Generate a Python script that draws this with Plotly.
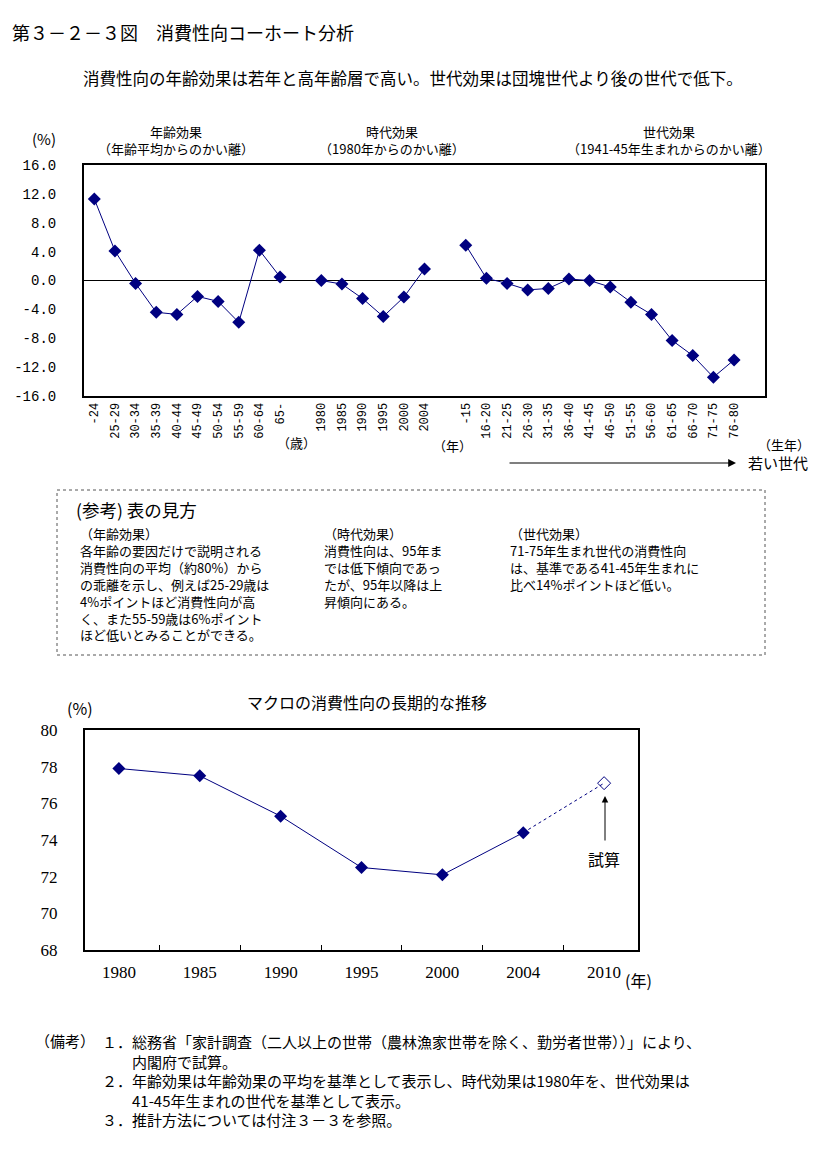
import plotly.graph_objects as go

W, H = 826, 1164
JP = "Noto Sans CJK JP"
MONO = "Liberation Mono"
SERIF = "Liberation Serif"

# ---------------- data ----------------
age_labels = ["-24", "25-29", "30-34", "35-39", "40-44", "45-49", "50-54", "55-59", "60-64", "65-"]
age_vals = [11.3, 4.1, -0.4, -4.4, -4.7, -2.2, -2.9, -5.8, 4.2, 0.5]

period_labels = ["1980", "1985", "1990", "1995", "2000", "2004"]
period_vals = [0.0, -0.5, -2.5, -5.0, -2.3, 1.6]

cohort_labels = ["-15", "16-20", "21-25", "26-30", "31-35", "36-40", "41-45", "46-50",
                 "51-55", "56-60", "61-65", "66-70", "71-75", "76-80"]
cohort_vals = [4.9, 0.3, -0.4, -1.3, -1.1, 0.2, 0.0, -0.9, -3.0, -4.7, -8.3, -10.4, -13.4, -11.0]

macro_years = ["1980", "1985", "1990", "1995", "2000", "2004", "2010"]
macro_vals = [77.9, 77.5, 75.3, 72.5, 72.1, 74.4, 77.1]

y1_ticks = [16, 12, 8, 4, 0, -4, -8, -12, -16]
y2_ticks = [80, 78, 76, 74, 72, 70, 68]


def px(x):
    return x / W


def py(y):
    return 1 - y / H


fig = go.Figure()
NAVY = "#000080"

# top chart: groups separated by one empty slot
groups = [(age_labels, age_vals), (period_labels, period_vals), (cohort_labels, cohort_vals)]
tickvals, ticktext = [], []
pos = 0
for labels, vals in groups:
    xs = list(range(pos, pos + len(labels)))
    tickvals += xs
    ticktext += labels
    fig.add_trace(go.Scatter(
        x=xs, y=vals, mode="lines+markers", xaxis="x", yaxis="y",
        line=dict(color=NAVY, width=1),
        marker=dict(symbol="diamond", size=10, color=NAVY),
        showlegend=False, hoverinfo="skip"))
    pos += len(labels) + 1
n_slots = pos - 1

# bottom chart
fig.add_trace(go.Scatter(
    x=macro_years[:-1], y=macro_vals[:-1], mode="lines+markers", xaxis="x2", yaxis="y2",
    line=dict(color=NAVY, width=1),
    marker=dict(symbol="diamond", size=10, color=NAVY),
    showlegend=False, hoverinfo="skip"))
fig.add_trace(go.Scatter(
    x=macro_years[-2:], y=macro_vals[-2:], mode="lines", xaxis="x2", yaxis="y2",
    line=dict(color=NAVY, width=1, dash="dot"),
    showlegend=False, hoverinfo="skip"))
fig.add_trace(go.Scatter(
    x=macro_years[-1:], y=macro_vals[-1:], mode="markers", xaxis="x2", yaxis="y2",
    marker=dict(symbol="diamond-open", size=10, color=NAVY, line=dict(width=1)),
    showlegend=False, hoverinfo="skip"))

fig.update_layout(
    width=W, height=H, autosize=False,
    margin=dict(l=0, r=0, t=0, b=0, pad=0, autoexpand=False),
    paper_bgcolor="white", plot_bgcolor="white",
    font=dict(family=JP, size=13, color="black"),
    xaxis=dict(domain=[px(84), px(765)], range=[-0.5, n_slots + 0.5],
               tickmode="array", tickvals=tickvals, ticktext=ticktext, tickangle=-90,
               tickfont=dict(family=MONO, size=12), showgrid=False, zeroline=False,
               showline=True, mirror=True, linecolor="black", linewidth=2, ticks=""),
    yaxis=dict(domain=[py(396), py(165)], range=[-16, 16], tickmode="array",
               tickvals=y1_ticks, ticktext=[f"{v:.1f}" for v in y1_ticks],
               tickfont=dict(family=MONO, size=14), ticklabelstandoff=23,
               showgrid=False, zeroline=True, zerolinecolor="black", zerolinewidth=1,
               showline=True, mirror=True, linecolor="black", linewidth=2, ticks=""),
    xaxis2=dict(domain=[px(85), px(638)], anchor="y2", type="category",
                categoryorder="array", categoryarray=macro_years,
                tickfont=dict(family=SERIF, size=17),
                ticks="inside", ticklen=5, tickson="boundaries", tickcolor="black",
                ticklabelstandoff=6,
                showgrid=False, showline=True, mirror=True, linecolor="black", linewidth=2),
    yaxis2=dict(domain=[py(950), py(730)], anchor="x2", range=[68, 80],
                tickmode="array", tickvals=y2_ticks,
                tickfont=dict(family=SERIF, size=17),
                ticklabelstandoff=22,
                showgrid=False, zeroline=False, showline=True, mirror=True,
                linecolor="black", linewidth=2, ticks=""),
)

ann = []


def T(x, y, text, size=13, xanchor="left", yanchor="middle", family=JP, align="left"):
    ann.append(dict(x=px(x), y=py(y), xref="paper", yref="paper", text=text,
                    showarrow=False, xanchor=xanchor, yanchor=yanchor, align=align,
                    font=dict(family=family, size=size, color="black")))


# titles
T(10, 32, "第３－２－３図　消費性向コーホート分析", size=18)
T(413, 78, "消費性向の年齢効果は若年と高年齢層で高い。世代効果は団塊世代より後の世代で低下。",
  size=16.5, xanchor="center")

# top chart headers
T(44, 138, "(%)", size=15, xanchor="center")
T(176, 140, "年齢効果<br>（年齢平均からのかい離）", size=13, xanchor="center", align="center")
T(392, 140, "時代効果<br>（1980年からのかい離）", size=13, xanchor="center", align="center")
T(669, 140, "世代効果<br>（1941-45年生まれからのかい離）", size=13, xanchor="center", align="center")

T(296, 442, "（歳）", size=13, xanchor="center")
T(452, 446, "（年）", size=13, xanchor="center")
T(784, 444, "（生年）", size=13, xanchor="center")
T(778, 463, "若い世代", size=15, xanchor="center")

# arrow to younger generation
ann.append(dict(x=px(736), y=py(463), xref="paper", yref="paper", ax=-228, ay=0,
                text="", showarrow=True, arrowhead=2, arrowsize=1.3, arrowwidth=1.2,
                arrowcolor="black"))

# reference box
T(74, 509, "(参考) 表の見方", size=17.5)
col1 = ["（年齢効果）", "各年齢の要因だけで説明される", "消費性向の平均（約80%）から",
        "の乖離を示し、例えば25-29歳は", "4%ポイントほど消費性向が高",
        "く、また55-59歳は6%ポイント", "ほど低いとみることができる。"]
col2 = ["（時代効果）", "消費性向は、95年ま", "では低下傾向であっ", "たが、95年以降は上", "昇傾向にある。"]
col3 = ["（世代効果）", "71-75年生まれ世代の消費性向", "は、基準である41-45年生まれに", "比べ14%ポイントほど低い。"]
for cx, lines in [(78, col1), (322, col2), (508, col3)]:
    T(cx, 522, "<br>".join(lines), size=13, yanchor="top")

# bottom chart texts
T(367, 702, "マクロの消費性向の長期的な推移", size=16, xanchor="center")
T(80, 708, "(%)", size=16, xanchor="center")
T(638, 980, "(年)", size=16, xanchor="center")
T(604, 859, "試算", size=16, xanchor="center")
ann.append(dict(x=px(605), y=py(796), xref="paper", yref="paper", ax=0, ay=46,
                text="", showarrow=True, arrowhead=2, arrowsize=1.3, arrowwidth=1,
                arrowcolor="black"))

# notes
T(33, 1040, "（備考）", size=15)
notes = ["１．総務省「家計調査（二人以上の世帯（農林漁家世帯を除く、勤労者世帯））」により、",
         "　　内閣府で試算。",
         "２．年齢効果は年齢効果の平均を基準として表示し、時代効果は1980年を、世代効果は",
         "　　41-45年生まれの世代を基準として表示。",
         "３．推計方法については付注３－３を参照。"]
T(100, 1029, "<br>".join(notes), size=15, yanchor="top")

fig.update_layout(annotations=ann)
fig.add_shape(type="rect", xref="paper", yref="paper",
              x0=px(57), x1=px(765), y0=py(655), y1=py(490),
              line=dict(color="#555555", width=1, dash="dot"))

fig.write_html("out.html", config={"displayModeBar": False},
               post_script="document.body.style.margin='0';document.body.style.overflow='hidden';")
